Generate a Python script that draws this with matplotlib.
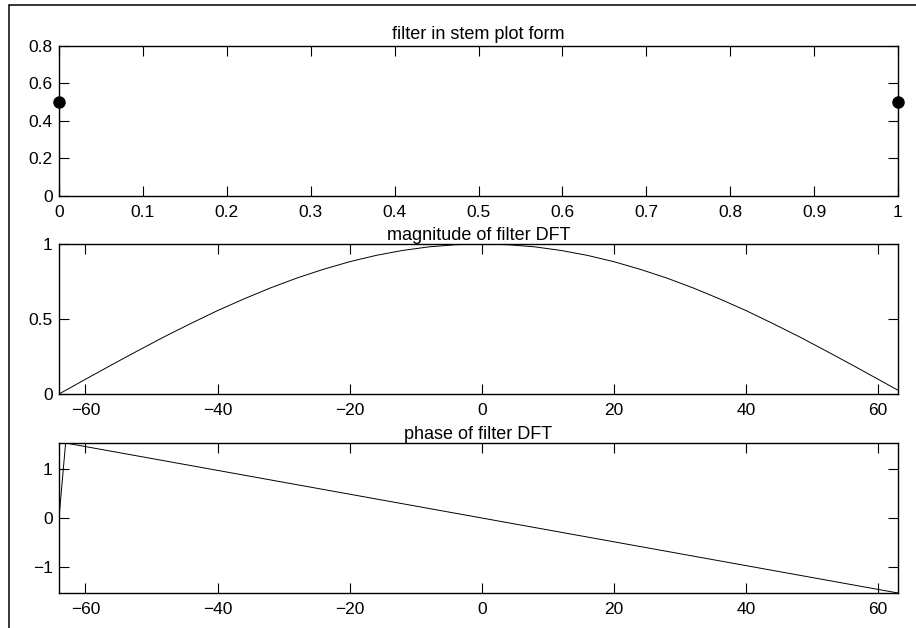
import numpy as np
import matplotlib
matplotlib.use("Agg")
import matplotlib.pyplot as plt
from matplotlib.patches import Rectangle

plt.rcParams['font.family'] = ['Liberation Sans', 'DejaVu Sans']
plt.rcParams['font.size'] = 12.5

# filter taps
n = [0, 1]
h = [0.5, 0.5]

# magnitude of DFT
k_mag = [-64, -60, -56, -52, -48, -44, -40, -36, -32, -28, -24, -20, -16, -12, -8, -4, 0,
         4, 8, 12, 16, 20, 24, 28, 32, 36, 40, 44, 48, 52, 56, 60, 63]
mag = [0.0, 0.098, 0.195, 0.290, 0.383, 0.471, 0.556, 0.634, 0.707, 0.773, 0.831, 0.882,
       0.924, 0.957, 0.981, 0.995, 1.0,
       0.995, 0.981, 0.957, 0.924, 0.882, 0.831, 0.773, 0.707, 0.634, 0.556, 0.471,
       0.383, 0.290, 0.195, 0.098, 0.025]

# phase of DFT
k_ph = [-64, -63, 63]
phase = [0.0, 1.546, -1.546]

fig = plt.figure(figsize=(9.16, 6.28), dpi=100)
W, H = 916, 628

# outer frame (partly cropped in the reference)
fig.add_artist(Rectangle((9 / W, -0.1), 1.2, 1 - 5 / H + 0.1, transform=fig.transFigure,
                         fill=False, edgecolor='black', linewidth=1.1))

def make_ax(top, bottom):
    ax = fig.add_axes([59 / W, 1 - bottom / H, (898 - 59) / W, (bottom - top) / H])
    ax.tick_params(direction='in', length=7, width=0.8, top=True, right=True, labelsize=12.5)
    ax.tick_params(axis='x', pad=6.5)
    ax.tick_params(axis='y', pad=4.5)
    for s in ax.spines.values():
        s.set_linewidth(1.0)
    return ax

ax1 = make_ax(46, 196)
ax1.vlines(n, 0, h, colors='black', linewidth=0.8)
ax1.plot(n, h, 'o', color='black', markersize=8, clip_on=False, zorder=5)
ax1.set_xlim(0, 1)
ax1.set_ylim(0, 0.8)
ax1.set_xticks(np.arange(0, 1.01, 0.1))
ax1.set_xticklabels(['0', '0.1', '0.2', '0.3', '0.4', '0.5', '0.6', '0.7', '0.8', '0.9', '1'])
ax1.set_yticks([0, 0.2, 0.4, 0.6, 0.8])
ax1.set_yticklabels(['0', '0.2', '0.4', '0.6', '0.8'])
ax1.set_title('filter in stem plot form', fontsize=13, pad=5)

ax2 = make_ax(244, 394)
ax2.plot(k_mag, mag, color='black', linewidth=0.7)
ax2.set_xlim(-64, 63)
ax2.set_ylim(0, 1)
ax2.set_xticks([-60, -40, -20, 0, 20, 40, 60])
ax2.set_yticks([0, 0.5, 1])
ax2.set_yticklabels(['0', '0.5', '1'])
ax2.set_title('magnitude of filter DFT', fontsize=13, pad=3)

ax3 = make_ax(443, 593)
ax3.plot(k_ph, phase, color='black', linewidth=0.7)
ax3.set_xlim(-64, 63)
ax3.set_ylim(-1.546, 1.546)
ax3.set_xticks([-60, -40, -20, 0, 20, 40, 60])
ax3.set_yticks([-1, 0, 1])
ax3.set_title('phase of filter DFT', fontsize=13, pad=3)

fig.savefig('out.png', dpi=100)
